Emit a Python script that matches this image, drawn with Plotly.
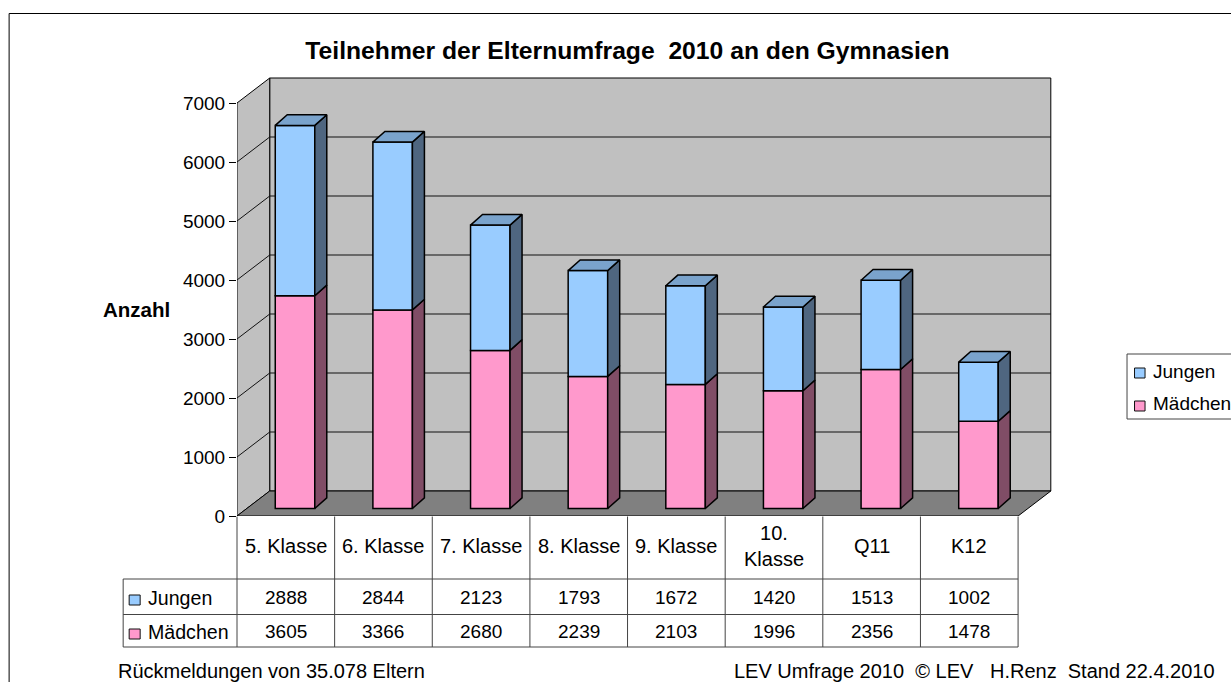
import plotly.graph_objects as go

categories = ["5. Klasse", "6. Klasse", "7. Klasse", "8. Klasse", "9. Klasse", "10.<br>Klasse", "Q11", "K12"]
jungen = [2888, 2844, 2123, 1793, 1672, 1420, 1513, 1002]
maedchen = [3605, 3366, 2680, 2239, 2103, 1996, 2356, 1478]
y_ticks = [0, 1000, 2000, 3000, 4000, 5000, 6000, 7000]

W, H = 1231, 682
FONT = "Liberation Sans"
X0, X1 = 237.3, 1054.0      # plot area in pixels
Y0, Y1 = 516.0, 74.0
CAT_PX = 97.6
VAL_PX = 0.059
x_max = (X1 - X0) / CAT_PX
y_max = (Y0 - Y1) / VAL_PX

# 3-D projection offsets in data units
WALL_DX = 32.7 / CAT_PX
WALL_DY = 25.0 / VAL_PX
BAR_SHIFT = 58.0 / CAT_PX
BAR_W = 39.5 / CAT_PX
BAR_BASE = 7.5 / VAL_PX
BAR_DX = 12.0 / CAT_PX
BAR_DY = 10.7 / VAL_PX
TOP = y_ticks[-1]
N = len(categories)

BLUE, BLUE_SIDE, BLUE_TOP = "#99CCFF", "#4F6680", "#7AA3CC"
PINK, PINK_SIDE = "#FF99CC", "#804D66"
WALL, FLOOR = "#C0C0C0", "#808080"
GRID = "#111111"
TABLE = "#444444"


def px(x):
    return (x - X0) / (X1 - X0)


def py(y):
    return (Y0 - y) / (Y0 - Y1)


def poly(points):
    return "M" + "L".join(f"{a},{b}" for a, b in points) + "Z"


shapes = []
# walls and floor (data coordinates)
shapes.append(dict(type="path", layer="below", xref="x", yref="y", fillcolor=WALL,
                   line=dict(color="black", width=1),
                   path=poly([(WALL_DX, WALL_DY), (N + WALL_DX, WALL_DY), (N + WALL_DX, TOP + WALL_DY), (WALL_DX, TOP + WALL_DY)])))
shapes.append(dict(type="path", layer="below", xref="x", yref="y", fillcolor=WALL,
                   line=dict(color="black", width=1),
                   path=poly([(0, 0), (WALL_DX, WALL_DY), (WALL_DX, TOP + WALL_DY), (0, TOP)])))
for v in y_ticks[1:-1]:
    shapes.append(dict(type="path", layer="below", xref="x", yref="y",
                       line=dict(color=GRID, width=1),
                       path=f"M0,{v}L{WALL_DX},{v + WALL_DY}L{N + WALL_DX},{v + WALL_DY}"))
shapes.append(dict(type="path", layer="below", xref="x", yref="y", fillcolor=FLOOR,
                   line=dict(color="black", width=1),
                   path=poly([(0, 0), (N, 0), (N + WALL_DX, WALL_DY), (WALL_DX, WALL_DY)])))


def pline(x0, y0, x1, y1, color=TABLE, width=1):
    shapes.append(dict(type="line", xref="paper", yref="paper", x0=px(x0), y0=py(y0), x1=px(x1), y1=py(y1),
                       line=dict(color=color, width=width)))


def prect(x0, y0, x1, y1, fill, color="black", width=1):
    shapes.append(dict(type="rect", xref="paper", yref="paper", x0=px(x0), y0=py(y0), x1=px(x1), y1=py(y1),
                       fillcolor=fill, line=dict(color=color, width=width)))


# outer frame
prect(9.5, 13.5, 1400, 800, "rgba(0,0,0,0)", "black", 1)
# data table
R0, R1, R2, R3 = 516.5, 579.0, 614.5, 647.0
TL = 123.5
for k in range(N + 1):
    xk = X0 + k * CAT_PX
    pline(xk, R0, xk, R3)
pline(TL, R1, TL, R3)
pline(TL, R1, X0 + N * CAT_PX, R1)
pline(TL, R2, X0 + N * CAT_PX, R2)
pline(TL, R3, X0 + N * CAT_PX, R3)
# legend box
prect(1127, 354, 1400, 419, "white", "#444444", 1)
# swatches
prect(129.5, 595, 140.5, 605, BLUE, "#111111", 1)
prect(129.5, 629, 140.5, 639, PINK, "#111111", 1)
prect(1134.5, 368, 1145, 378, BLUE, "#111111", 1)
prect(1134.5, 401, 1145, 411, PINK, "#111111", 1)

annotations = []


def text(x, y, s, size=19, anchor="center", bold=False):
    annotations.append(dict(xref="paper", yref="paper", x=px(x), y=py(y), text=f"<b>{s}</b>" if bold else s,
                            showarrow=False, xanchor=anchor, yanchor="middle",
                            font=dict(family=FONT, size=size, color="black"), align="center"))


text(137, 309, "Anzahl", 20.5, bold=True)
for k, c in enumerate(categories):
    cx = X0 + (k + 0.5) * CAT_PX
    text(cx, 546, c, 20)
    text(cx, 597, str(jungen[k]))
    text(cx, 631, str(maedchen[k]))
text(146, 598, "Jungen", 19.6, anchor="left")
text(146, 632, "Mädchen", 19.6, anchor="left")
text(1151, 371, "Jungen", 19, anchor="left")
text(1151, 403, "Mädchen", 19, anchor="left")
text(116, 671, "Rückmeldungen von 35.078 Eltern", 20, anchor="left")
text(732, 671, "LEV Umfrage 2010  © LEV   H.Renz  Stand 22.4.2010", 20, anchor="left")

centers = [k + BAR_SHIFT for k in range(N)]
base_m = [BAR_BASE] * N
base_j = [BAR_BASE + m for m in maedchen]
bar_line = dict(color="black", width=1.5)

fig = go.Figure()
fig.add_bar(x=centers, y=maedchen, base=base_m, width=BAR_W, name="Mädchen",
            marker=dict(color=PINK, line=bar_line), showlegend=False)
fig.add_bar(x=centers, y=jungen, base=base_j, width=BAR_W, name="Jungen",
            marker=dict(color=BLUE, line=bar_line), showlegend=False)


def face(xs, ys, fill, name):
    fig.add_scatter(x=xs, y=ys, mode="lines", fill="toself", fillcolor=fill, name=name,
                    line=dict(color="black", width=1.5), showlegend=False, hoverinfo="skip")


for k in range(N):
    right = centers[k] + BAR_W / 2
    left = centers[k] - BAR_W / 2
    b0, b1 = base_m[k], base_j[k]
    b2 = b1 + jungen[k]
    face([right, right + BAR_DX, right + BAR_DX, right, right],
         [b0, b0 + BAR_DY, b1 + BAR_DY, b1, b0], PINK_SIDE, "Mädchen")
    face([right, right + BAR_DX, right + BAR_DX, right, right],
         [b1, b1 + BAR_DY, b2 + BAR_DY, b2, b1], BLUE_SIDE, "Jungen")
    face([left, left + BAR_DX, right + BAR_DX, right, left],
         [b2, b2 + BAR_DY, b2 + BAR_DY, b2, b2], BLUE_TOP, "Jungen")

fig.update_layout(
    width=W, height=H, barmode="overlay", showlegend=False,
    paper_bgcolor="white", plot_bgcolor="white",
    margin=dict(l=X0, r=W - X1, t=Y1, b=H - Y0, pad=0),
    font=dict(family=FONT, size=19, color="black"),
    title=dict(text="<b>Teilnehmer der Elternumfrage  2010 an den Gymnasien</b>",
               x=627.5 / W, xanchor="center", y=1 - 50 / H, yanchor="middle", yref="container",
               font=dict(family=FONT, size=24.7, color="black")),
    shapes=shapes, annotations=annotations,
)
fig.update_xaxes(range=[0, x_max], showgrid=False, zeroline=False, showticklabels=False, ticks="", showline=False)
fig.update_yaxes(range=[0, y_max], tickmode="array", tickvals=y_ticks, ticks="outside", ticklen=7, tickcolor="black",
                 tickwidth=1, showgrid=False, zeroline=False, showline=False, tickfont=dict(family=FONT, size=19))

fig.write_html("out.html", config=dict(displayModeBar=False),
               post_script="document.body.style.margin='0';document.body.style.overflow='hidden';")
